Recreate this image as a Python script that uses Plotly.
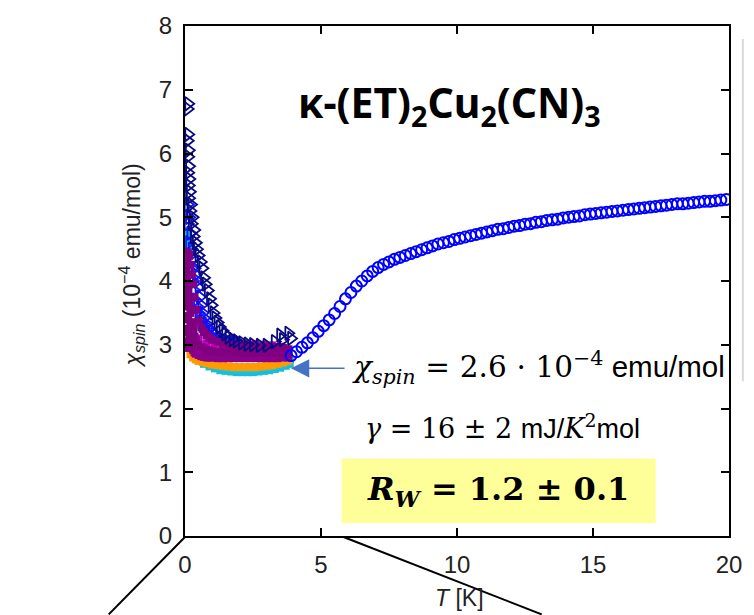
import plotly.graph_objects as go

# ---------------- data ----------------
circ_T = [3.9, 4.1, 4.3, 4.5, 4.7, 4.9, 5.1, 5.3, 5.5, 5.7, 5.9, 6.1, 6.3, 6.5, 6.7, 6.9, 7.1, 7.3, 7.5, 7.7,
          7.9, 8.1, 8.3, 8.5, 8.7, 8.9, 9.1, 9.3, 9.5, 9.7, 9.9, 10.1, 10.3, 10.5, 10.7, 10.9, 11.1, 11.3,
          11.5, 11.7, 11.9, 12.1, 12.3, 12.5, 12.7, 12.9, 13.1, 13.3, 13.5, 13.7, 13.9, 14.1, 14.3, 14.5,
          14.7, 14.9, 15.1, 15.3, 15.5, 15.7, 15.9, 16.1, 16.3, 16.5, 16.7, 16.9, 17.1, 17.3, 17.5, 17.7,
          17.9, 18.1, 18.3, 18.5, 18.7, 18.9, 19.1, 19.3, 19.5, 19.7, 19.9]
circ_chi = [2.83, 2.89, 2.96, 3.03, 3.11, 3.21, 3.30, 3.39, 3.49, 3.60, 3.72, 3.82, 3.92, 4.00, 4.08, 4.15,
            4.21, 4.26, 4.30, 4.34, 4.37, 4.40, 4.43, 4.46, 4.49, 4.52, 4.55, 4.58, 4.60, 4.62, 4.65, 4.67,
            4.69, 4.71, 4.73, 4.75, 4.77, 4.79, 4.81, 4.82, 4.84, 4.86, 4.87, 4.89, 4.90, 4.92, 4.93, 4.95,
            4.96, 4.97, 4.99, 5.00, 5.01, 5.02, 5.04, 5.05, 5.06, 5.07, 5.08, 5.09, 5.10, 5.11, 5.12, 5.13,
            5.14, 5.15, 5.16, 5.17, 5.18, 5.19, 5.20, 5.21, 5.21, 5.22, 5.23, 5.24, 5.25, 5.25, 5.26, 5.27, 5.28]

navy_T = [0.12, 0.10, 0.12, 0.10, 0.14, 0.12, 0.15, 0.12, 0.16, 0.14, 0.18, 0.15, 0.22, 0.20, 0.28, 0.25,
          0.34, 0.32, 0.40, 0.44, 0.50, 0.58, 0.64, 0.70, 0.76, 0.84, 0.92, 0.98, 1.05, 1.12, 1.20, 1.28,
          1.38, 1.48, 1.60, 1.75, 1.90, 2.10, 2.30, 2.50, 2.75, 3.00, 3.30, 3.50, 3.60, 3.80, 3.90]
navy_chi = [6.78, 6.70, 6.30, 6.20, 6.05, 5.95, 5.80, 5.70, 5.60, 5.50, 5.40, 5.30, 5.20, 5.10, 5.00, 4.90,
            4.80, 4.70, 4.60, 4.50, 4.40, 4.30, 4.20, 4.05, 3.95, 3.85, 3.72, 3.62, 3.50, 3.42, 3.35, 3.28,
            3.22, 3.17, 3.12, 3.08, 3.06, 3.03, 3.01, 3.00, 2.99, 2.99, 3.05, 3.15, 3.08, 3.18, 3.10]

blue_T = [0.10, 0.15, 0.20, 0.25, 0.30, 0.35, 0.40, 0.45, 0.50, 0.55, 0.60, 0.65, 0.70, 0.80, 0.90, 1.00,
          1.10, 1.25, 1.40, 1.60, 1.80, 2.00]
blue_chi = [5.20, 5.00, 4.75, 4.50, 4.35, 4.20, 4.10, 4.00, 3.90, 3.75, 3.62, 3.50, 3.42, 3.32, 3.25, 3.20,
            3.16, 3.12, 3.08, 3.05, 3.03, 3.00]
blue2_chi = [4.90, 4.60, 4.40, 4.20, 4.00, 3.85, 3.70, 3.60, 3.50, 3.42, 3.36, 3.30, 3.26, 3.20, 3.15, 3.12,
             3.10, 3.07, 3.04, 3.02, 3.00, 2.98]

cyan_top_T = [0.04, 0.08, 0.12, 0.06, 0.10, 0.15]
cyan_top_chi = [4.78, 4.72, 4.65, 4.60, 4.55, 4.50]
cyan_T = [0.5, 0.7, 0.9, 1.1, 1.3, 1.5, 1.7, 1.9, 2.1, 2.3, 2.5, 2.7, 2.9, 3.1, 3.3, 3.5, 3.7, 3.85]
cyan_chi = [2.75, 2.70, 2.66, 2.63, 2.60, 2.59, 2.58, 2.57, 2.57, 2.57, 2.57, 2.58, 2.59, 2.60, 2.62, 2.64,
            2.67, 2.70]
cyan2_chi = [2.80, 2.76, 2.72, 2.69, 2.66, 2.65, 2.64, 2.63, 2.63, 2.63, 2.63, 2.64, 2.65, 2.66, 2.68, 2.70,
             2.73, 2.76]

orange_T = [0.1, 0.2, 0.3, 0.4, 0.5, 0.65, 0.8, 1.0, 1.2, 1.4, 1.6, 1.8, 2.0, 2.2, 2.4, 2.6, 2.8, 3.0, 3.2,
            3.4, 3.6, 3.8]
orange_chi = [3.00, 2.85, 2.80, 2.77, 2.75, 2.73, 2.71, 2.69, 2.68, 2.67, 2.66, 2.65, 2.65, 2.65, 2.65, 2.65,
              2.66, 2.67, 2.68, 2.70, 2.72, 2.75]

magenta_T = [0.3, 0.5, 0.8, 1.1, 1.4, 1.7, 2.0, 2.3, 2.6, 2.9, 3.2, 3.5, 3.8]
magenta_chi = [3.30, 3.10, 3.02, 3.00, 3.00, 3.00, 3.00, 3.01, 3.01, 3.00, 2.99, 2.97, 2.93]

purple_T = [0.05, 0.10, 0.15, 0.20, 0.25, 0.30, 0.35, 0.40, 0.50, 0.60, 0.70, 0.80, 0.90, 1.00, 1.20, 1.40,
            1.60, 1.80, 2.00, 2.20, 2.40, 2.60, 2.80, 3.00, 3.20, 3.40, 3.60, 3.80]
purple_hi_chi = [4.45, 4.45, 4.40, 4.25, 4.10, 3.95, 3.75, 3.55, 3.38, 3.27, 3.20, 3.15, 3.11, 3.08, 3.05,
                 3.02, 3.00, 2.99, 2.98, 2.98, 2.98, 2.97, 2.97, 2.97, 2.96, 2.96, 2.95, 2.92]
purple_mid_chi = [4.10, 3.90, 3.70, 3.50, 3.35, 3.22, 3.13, 3.07, 3.00, 2.96, 2.94, 2.92, 2.91, 2.90, 2.89,
                  2.89, 2.88, 2.88, 2.88, 2.87, 2.87, 2.87, 2.87, 2.87, 2.87, 2.87, 2.86, 2.85]
purple_lo_chi = [3.70, 3.40, 3.20, 3.05, 2.97, 2.92, 2.88, 2.86, 2.84, 2.82, 2.81, 2.80, 2.80, 2.80, 2.79,
                 2.79, 2.79, 2.79, 2.79, 2.79, 2.79, 2.79, 2.79, 2.79, 2.79, 2.79, 2.80, 2.80]
purple_wall_T = [0.04, 0.08, 0.05, 0.12, 0.06, 0.15, 0.05, 0.10, 0.18, 0.07, 0.14, 0.22, 0.06, 0.12, 0.20,
                 0.28, 0.05, 0.10, 0.16, 0.24, 0.32, 0.04, 0.09, 0.14]
purple_wall_chi = [4.30, 4.25, 4.15, 4.10, 4.00, 3.95, 3.85, 3.80, 3.75, 3.65, 3.60, 3.55, 3.45, 3.40, 3.35,
                   3.30, 3.25, 3.20, 3.15, 3.10, 3.05, 3.05, 3.00, 2.95]

x_ticks = [0, 5, 10, 15, 20]
y_ticks = [0, 1, 2, 3, 4, 5, 6, 7, 8]

# ---------------- figure ----------------
fig = go.Figure()

def filled(T, chi, color, size=8, symbol="square"):
    fig.add_trace(go.Scatter(x=T, y=chi, mode="markers",
                             marker=dict(symbol=symbol, size=size, color=color, line=dict(width=0)),
                             showlegend=False, hoverinfo="skip"))

def open_tri(T, chi, color):
    fig.add_trace(go.Scatter(x=T, y=chi, mode="markers",
                             marker=dict(symbol="triangle-right-open", size=12, color=color,
                                         line=dict(width=1.8)),
                             showlegend=False, hoverinfo="skip"))

filled(cyan_top_T, cyan_top_chi, "#17BEDC")
filled(cyan_T, cyan_chi, "#17BEDC")
filled(cyan_T, cyan2_chi, "#1FC8D8")
filled(orange_T, orange_chi, "#FF9A00")
open_tri(blue_T, blue2_chi, "#1A1AFF")
open_tri(blue_T, blue_chi, "#1010F0")
filled(magenta_T, magenta_chi, "#C400C4")
filled(purple_T, purple_lo_chi, "#8A008A")
filled(purple_T, purple_mid_chi, "#800080")
filled(purple_wall_T, purple_wall_chi, "#800080")
filled(purple_T, purple_hi_chi, "#800080")
open_tri(navy_T, navy_chi, "#0A0A80")

fig.add_trace(go.Scatter(x=circ_T, y=circ_chi, mode="markers",
                         marker=dict(symbol="circle-open", size=11, color="#0000FF",
                                     line=dict(width=2)),
                         showlegend=False, hoverinfo="skip"))

axis_common = dict(showline=True, linewidth=2, linecolor="black", mirror="ticks",
                   ticks="inside", ticklen=8, tickwidth=2, tickcolor="black",
                   showgrid=False, zeroline=False, ticklabelstandoff=6,
                   tickfont=dict(family="Liberation Sans, Arial, sans-serif", size=24, color="#222222"))

fig.update_layout(
    width=754, height=615,
    margin=dict(l=185, r=20, t=22, b=79),
    paper_bgcolor="white", plot_bgcolor="white",
    xaxis=dict(range=[0, 20], tickvals=x_ticks, **axis_common),
    yaxis=dict(range=[0, 8], tickvals=y_ticks, **axis_common),
)

def px_x(px):
    return (px - 185) / 549.0

def px_y(py):
    return (536 - py) / 514.0

SERIF = "font-family:DejaVu Serif"
SP = "\u2004"
ann = []
ann.append(dict(text="<i>χ<sub>spin</sub></i> (10<sup>−4</sup> emu/mol)", textangle=-90,
                x=px_x(131), y=px_y(263), xref="paper", yref="paper", showarrow=False,
                xanchor="center", yanchor="middle",
                font=dict(family="Liberation Sans, Arial, sans-serif", size=23, color="#222222")))
ann.append(dict(text="<i>T</i> [K]", x=px_x(462), y=px_y(598), xref="paper", yref="paper",
                showarrow=False, xanchor="center", yanchor="middle",
                font=dict(family="Liberation Sans, Arial, sans-serif", size=23, color="#222222")))
ann.append(dict(text="<b>κ-(ET)<sub>2</sub>Cu<sub>2</sub>(CN)<sub>3</sub></b>",
                x=px_x(452), y=px_y(101), xref="paper", yref="paper", showarrow=False,
                xanchor="center", yanchor="middle",
                font=dict(family="Noto Sans, sans-serif", size=41, color="black")))
ann.append(dict(text=f'<span style="{SERIF}"><i>χ<sub>spin</sub></i>{SP}={SP}2.6{SP}·{SP}10<sup>−4</sup></span> emu/mol',
                x=px_x(352), y=px_y(366), xref="paper", yref="paper", showarrow=False,
                xanchor="left", yanchor="middle",
                font=dict(family="Liberation Sans, Arial, sans-serif", size=29.5, color="black")))
ann.append(dict(text="", x=px_x(292), y=px_y(367), xref="paper", yref="paper",
                showarrow=True, ax=55, ay=0, arrowhead=2, arrowsize=2.6, arrowwidth=1.4,
                arrowcolor="#4472C4"))
ann.append(dict(text=f'<span style="{SERIF}"><i>γ</i> = 16 ± 2 </span>mJ/<span style="{SERIF}"><i>K</i><sup>2</sup></span>mol',
                x=px_x(505), y=px_y(426), xref="paper", yref="paper", showarrow=False,
                xanchor="center", yanchor="middle",
                font=dict(family="Liberation Sans, Arial, sans-serif", size=27, color="black")))
ann.append(dict(text="<b><i>R<sub>W</sub></i> = 1.2 ± 0.1</b>",
                x=px_x(501), y=px_y(491), xref="paper", yref="paper", showarrow=False,
                xanchor="center", yanchor="middle",
                font=dict(family="DejaVu Serif, serif", size=32, color="black")))

shapes = []
shapes.append(dict(type="rect", xref="paper", yref="paper", x0=px_x(343), x1=px_x(660),
                   y0=px_y(523), y1=px_y(458), fillcolor="#FFFF99", line=dict(width=0), layer="below"))
shapes.append(dict(type="line", xref="paper", yref="paper", x0=px_x(185), y0=px_y(537),
                   x1=px_x(108), y1=px_y(615), line=dict(color="black", width=2)))
shapes.append(dict(type="line", xref="paper", yref="paper", x0=px_x(345), y0=px_y(537),
                   x1=px_x(545), y1=px_y(615), line=dict(color="black", width=2)))
shapes.append(dict(type="line", xref="paper", yref="paper", x0=px_x(748), y0=px_y(35),
                   x1=px_x(748), y1=px_y(380), line=dict(color="#D9D9D9", width=2)))

fig.update_layout(annotations=ann, shapes=shapes)

fig.write_html("out.html", config={"displayModeBar": False},
               post_script="document.body.style.margin='0';document.body.style.padding='0';")
